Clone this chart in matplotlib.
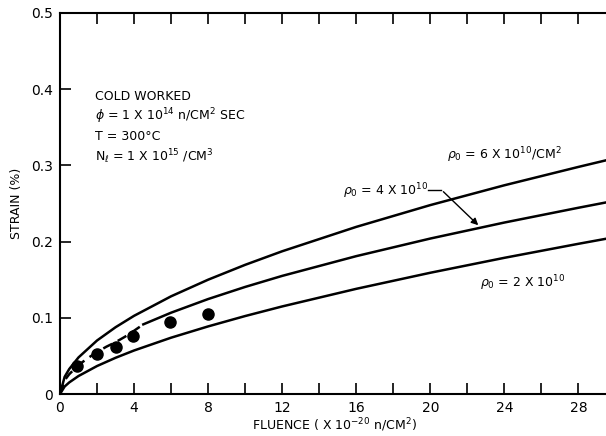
import numpy as np
import matplotlib
matplotlib.use('Agg')
import matplotlib.pyplot as plt

# curves (fluence in 1e20 n/cm2, strain in %)
x_top = [0, 0.25, 0.5, 1, 2, 3, 4, 6, 8, 10, 12, 16, 20, 24, 28, 29.6]
y_top = [0, 0.0225, 0.0328, 0.048, 0.0702, 0.0876, 0.1026, 0.1282, 0.150,
         0.1695, 0.1873, 0.2193, 0.2479, 0.2739, 0.298, 0.3073]

x_mid = [4.5, 6, 8, 10, 12, 16, 20, 24, 28, 29.6]
y_mid = [0.0914, 0.1067, 0.1246, 0.1405, 0.155, 0.1809, 0.204, 0.225, 0.2444, 0.2519]

x_dash = [0, 0.25, 0.5, 1, 1.5, 2, 2.5, 3, 3.5, 4, 4.5]
y_dash = [0, 0.018, 0.026, 0.038, 0.047, 0.055, 0.062, 0.068, 0.075, 0.083, 0.0914]

x_bot = [0, 0.25, 0.5, 1, 2, 3, 4, 6, 8, 10, 12, 16, 20, 24, 28, 29.6]
y_bot = [0, 0.0098, 0.0152, 0.0236, 0.0367, 0.0475, 0.0571, 0.0739, 0.0887,
         0.1023, 0.1149, 0.138, 0.1591, 0.1787, 0.1971, 0.2042]

# measured points
x_pts = [0.92, 2.0, 3.0, 3.95, 5.95, 8.0]
y_pts = [0.037, 0.052, 0.062, 0.076, 0.094, 0.105]

fig = plt.figure(figsize=(6.06, 4.36), dpi=100)
ax = fig.add_axes([60/606, 42/436, 548/606, 381/436])

ax.plot(x_top, y_top, color='black', lw=1.8)
ax.plot(x_mid, y_mid, color='black', lw=1.8)
ax.plot(x_dash, y_dash, color='black', lw=1.8, linestyle=(0, (4, 2.5)))
ax.plot(x_bot, y_bot, color='black', lw=1.8)
ax.plot(x_pts, y_pts, 'o', color='black', ms=8)

ax.set_xlim(0, 29.6)
ax.set_ylim(0, 0.5)
ax.set_xticks(np.arange(0, 29, 4))
ax.set_xticks(np.arange(2, 30, 4), minor=True)
ax.set_yticks([0, 0.1, 0.2, 0.3, 0.4, 0.5])
ax.set_yticklabels(['0', '0.1', '0.2', '0.3', '0.4', '0.5'])
ax.tick_params(which='both', direction='in', length=8, width=1.2,
               top=True, right=False, labelsize=10, pad=5)
for s in ax.spines.values():
    s.set_linewidth(1.5)
ax.spines['right'].set_visible(False)

ax.set_xlabel(r'FLUENCE ( X 10$^{-20}$ n/CM$^2$)', fontsize=9, labelpad=1)
ax.set_ylabel('STRAIN (%)', fontsize=9, labelpad=6)

kw = dict(fontsize=9, transform=ax.transData, va='center')
ax.text(1.9, 0.39, 'COLD WORKED', **kw)
ax.text(1.9, 0.364, r'$\phi$ = 1 X 10$^{14}$ n/CM$^2$ SEC', **kw)
ax.text(1.9, 0.338, 'T = 300°C', **kw)
ax.text(1.9, 0.312, r'N$_\ell$ = 1 X 10$^{15}$ /CM$^3$', **kw)

ax.text(20.9, 0.313, r'$\rho_0$ = 6 X 10$^{10}$/CM$^2$', **kw)
ax.text(15.3, 0.266, r'$\rho_0$ = 4 X 10$^{10}$', **kw)
ax.text(22.7, 0.145, r'$\rho_0$ = 2 X 10$^{10}$', **kw)

ax.plot([19.9, 20.6], [0.268, 0.268], color='black', lw=1)
ax.annotate('', xy=(22.7, 0.219), xytext=(20.6, 0.268),
            arrowprops=dict(arrowstyle='-|>', color='black', lw=1,
                            mutation_scale=10))

fig.savefig('out.png', dpi=100)
